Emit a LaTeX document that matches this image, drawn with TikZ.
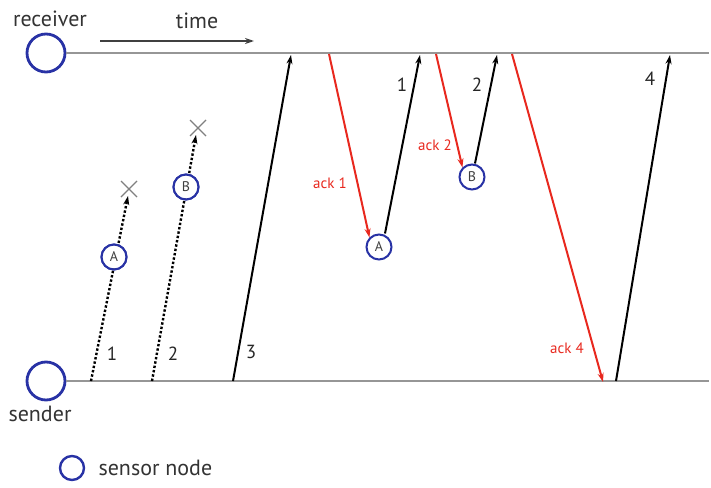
\documentclass[tikz,border=0pt]{standalone}
\usepackage{fontspec}
\setmainfont{PT Sans}
\usetikzlibrary{arrows.meta}
\definecolor{nodeblue}{RGB}{40,50,165}
\definecolor{ackred}{RGB}{232,40,30}
\definecolor{axisgray}{RGB}{150,150,150}
\begin{document}
\begin{tikzpicture}[x=1pt,y=-1pt,
  endpoint/.style={circle,draw=nodeblue,line width=2.8pt,minimum size=38pt,inner sep=0pt},
  sensor/.style={circle,draw=nodeblue,line width=2pt,minimum size=25pt,inner sep=0pt,font=\fontsize{14}{14}\selectfont,text=black!75},
  lbl/.style={font=\fontsize{22}{22}\selectfont,text=black!80},
  num/.style={font=\fontsize{19}{19}\selectfont,text=black!85},
  acklbl/.style={font=\fontsize{15}{15}\selectfont,text=ackred},
  timeline/.style={draw=axisgray,line width=1.4pt},
  msg/.style={draw=black,line width=2pt,-{Stealth[length=9pt,width=6pt]}},
  lost/.style={draw=black,line width=2.4pt,dotted,-{Stealth[length=9pt,width=6pt]}},
  ack/.style={draw=ackred,line width=2pt,-{Stealth[length=9pt,width=6pt]}},
  xmark/.style={draw=black!50,line width=1.2pt}]
\useasboundingbox (0,0) rectangle (711,487);
% endpoints and time lines
\node[endpoint] (rcv) at (46,53) {};
\node[endpoint] (snd) at (46,381) {};
\coordinate (rcvend) at (709,53);
\coordinate (sndend) at (709,381);
\draw[timeline] (rcv) -- (rcvend);
\draw[timeline] (snd) -- (sndend);
\node[lbl] (rcvlbl) at (50,19) {receiver};
\node[lbl] (sndlbl) at (40,414) {sender};
% time arrow
\coordinate (t0) at (100,41);
\coordinate (t1) at (254,41);
\draw[draw=black!75,line width=1.4pt,-{Stealth[length=9pt,width=6pt]}] (t0) -- (t1);
\node[lbl] (timelbl) at (197,21) {time};
% lost message 1
\coordinate (l1s) at (91,381);
\coordinate (l1e) at (128,196);
\node[sensor] (A0) at (114,257) {A};
\draw[lost] (l1s) -- (l1e);
\fill[white] (A0) circle (11.5pt);
\node[sensor] at (A0) {A};
\coordinate (x1) at (129,189);
\draw[xmark] (x1) +(-8,-8) -- +(8,8) (x1) +(-8,8) -- +(8,-8);
\node[num] (n1a) at (112,354) {1};
% lost message 2
\coordinate (l2s) at (152,381);
\coordinate (l2e) at (196,135);
\node[sensor] (B0) at (186,187) {B};
\draw[lost] (l2s) -- (l2e);
\fill[white] (B0) circle (11.5pt);
\node[sensor] at (B0) {B};
\coordinate (x2) at (198,128);
\draw[xmark] (x2) +(-8,-8) -- +(8,8) (x2) +(-8,8) -- +(8,-8);
\node[num] (n2a) at (173,354) {2};
% message 3
\coordinate (m3s) at (233,381);
\coordinate (m3e) at (291,55);
\draw[msg] (m3s) -- (m3e);
\node[num] (n3) at (251,352) {3};
% ack 1 and retransmission 1
\coordinate (a1s) at (329,54);
\node[sensor] (A1) at (379,247) {A};
\draw[ack] (a1s) -- (A1.north west);
\coordinate (r1e) at (420,55);
\draw[msg] (A1.north) ++(6,0) -- (r1e);
\node[acklbl] (ack1) at (330,183) {ack 1};
\node[num] (n1b) at (402,85) {1};
% ack 2 and retransmission 2
\coordinate (a2s) at (436,54);
\node[sensor] (B1) at (472,177) {B};
\draw[ack] (a2s) -- (B1.north west);
\coordinate (r2e) at (497,55);
\draw[msg] (B1.north) ++(3,0) -- (r2e);
\node[acklbl] (ack2) at (435,145) {ack 2};
\node[num] (n2b) at (477,85) {2};
% ack 4 and message 4
\coordinate (a4s) at (512,54);
\coordinate (a4e) at (603,382);
\draw[ack] (a4s) -- (a4e);
\node[acklbl] (ack4) at (567,348) {ack 4};
\coordinate (m4s) at (616,381);
\coordinate (m4e) at (670,55);
\draw[msg] (m4s) -- (m4e);
\node[num] (n4) at (650,79) {4};
% legend
\node[circle,draw=nodeblue,line width=2.4pt,minimum size=24pt,inner sep=0pt] (leg) at (72,468) {};
\node[lbl,anchor=west] (leglbl) at (95,468) {sensor node};
\end{tikzpicture}
\end{document}
